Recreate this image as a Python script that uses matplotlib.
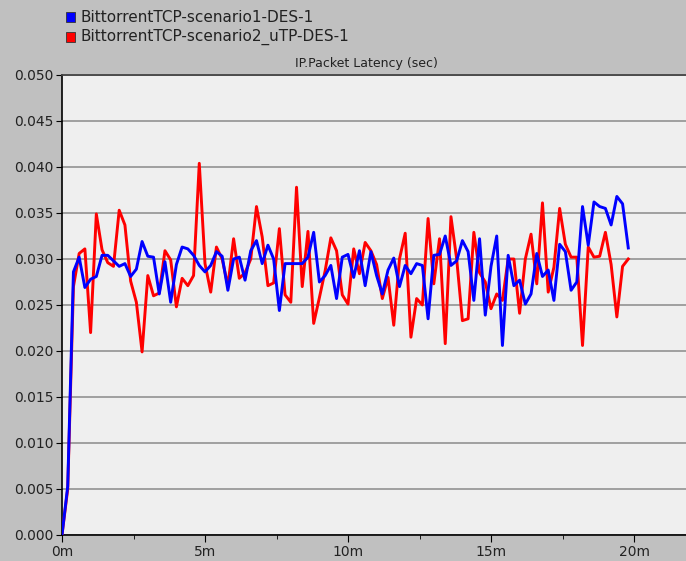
import numpy as np
import matplotlib
import matplotlib.pyplot as plt
from matplotlib.patches import Rectangle
from matplotlib.ticker import MultipleLocator, FuncFormatter

matplotlib.use('Agg')

# sample times in minutes (one sample every 12 s)
minutes = np.arange(100) * 0.2

scenario1_tcp = [
    0.0000, 0.0053, 0.0286, 0.0302, 0.0269, 0.0278, 0.0281, 0.0304, 0.0304, 0.0298,
    0.0292, 0.0295, 0.0281, 0.0289, 0.0319, 0.0303, 0.0302, 0.0262, 0.0297, 0.0253,
    0.0294, 0.0313, 0.0311, 0.0304, 0.0293, 0.0286, 0.0293, 0.0308, 0.0303, 0.0266,
    0.0300, 0.0302, 0.0277, 0.0309, 0.0320, 0.0295, 0.0315, 0.0300, 0.0244, 0.0295,
    0.0295, 0.0295, 0.0295, 0.0302, 0.0329, 0.0275, 0.0282, 0.0293, 0.0257, 0.0302,
    0.0305, 0.0280, 0.0309, 0.0271, 0.0308, 0.0282, 0.0262, 0.0288, 0.0301, 0.0270,
    0.0293, 0.0284, 0.0295, 0.0293, 0.0235, 0.0304, 0.0305, 0.0325, 0.0293, 0.0298,
    0.0320, 0.0308, 0.0255, 0.0322, 0.0239, 0.0292, 0.0325, 0.0206, 0.0304, 0.0271,
    0.0277, 0.0251, 0.0262, 0.0306, 0.0281, 0.0288, 0.0255, 0.0316, 0.0308, 0.0266,
    0.0275, 0.0357, 0.0315, 0.0362, 0.0357, 0.0355, 0.0337, 0.0368, 0.0360, 0.0312,
]

scenario2_utp = [
    0.0000, 0.0050, 0.0270, 0.0306, 0.0311, 0.0220, 0.0349, 0.0310, 0.0296, 0.0292,
    0.0353, 0.0337, 0.0276, 0.0253, 0.0199, 0.0282, 0.0260, 0.0263, 0.0309, 0.0299,
    0.0248, 0.0279, 0.0271, 0.0282, 0.0404, 0.0295, 0.0264, 0.0313, 0.0300, 0.0271,
    0.0322, 0.0279, 0.0285, 0.0300, 0.0357, 0.0324, 0.0271, 0.0274, 0.0333, 0.0261,
    0.0253, 0.0378, 0.0270, 0.0330, 0.0230, 0.0258, 0.0287, 0.0323, 0.0309, 0.0261,
    0.0251, 0.0311, 0.0284, 0.0318, 0.0309, 0.0294, 0.0257, 0.0280, 0.0228, 0.0300,
    0.0328, 0.0215, 0.0257, 0.0250, 0.0344, 0.0273, 0.0322, 0.0208, 0.0346, 0.0300,
    0.0233, 0.0235, 0.0329, 0.0285, 0.0275, 0.0246, 0.0262, 0.0255, 0.0300, 0.0300,
    0.0241, 0.0300, 0.0327, 0.0273, 0.0361, 0.0264, 0.0291, 0.0355, 0.0316, 0.0302,
    0.0302, 0.0206, 0.0313, 0.0302, 0.0303, 0.0329, 0.0294, 0.0237, 0.0292, 0.0300,
]

series_labels = ['BittorrentTCP-scenario1-DES-1', 'BittorrentTCP-scenario2_uTP-DES-1']
series_colors = ['#0000ff', '#ff0000']

fig = plt.figure(figsize=(6.86, 5.61), dpi=100, facecolor='#c0c0c0')
ax = fig.add_axes([62 / 686, 26 / 561, 624 / 686, 460 / 561])
ax.set_facecolor('#efefef')

ax.plot(minutes, scenario2_utp, color=series_colors[1], lw=2.1, zorder=3)
ax.plot(minutes, scenario1_tcp, color=series_colors[0], lw=2.1, zorder=4)

ax.set_xlim(0, 624 / 28.6)
ax.set_ylim(0, 0.050)
ax.yaxis.set_major_locator(MultipleLocator(0.005))
ax.yaxis.set_major_formatter(FuncFormatter(lambda v, p: f'{v:.3f}'))
ax.xaxis.set_major_locator(MultipleLocator(5))
ax.xaxis.set_minor_locator(MultipleLocator(2.5))
ax.xaxis.set_major_formatter(FuncFormatter(lambda v, p: f'{v:.0f}m'))

ax.grid(axis='y', color='#8a8a8a', lw=1.1)
ax.set_axisbelow(True)
ax.spines['right'].set_visible(False)
ax.spines['top'].set_color('#444444')
ax.spines['top'].set_linewidth(1.3)
ax.spines['left'].set_linewidth(1.2)
ax.spines['bottom'].set_linewidth(1.2)

ax.tick_params(axis='y', direction='out', length=4, labelsize=10, pad=2, labelcolor='#222222')
ax.tick_params(axis='x', which='major', direction='out', length=5, labelsize=10, pad=2, labelcolor='#222222')
ax.tick_params(axis='x', which='minor', direction='out', length=3)

fig.text(366 / 686, 1 - 64 / 561, 'IP.Packet Latency (sec)', ha='center', va='center',
         fontsize=9, color='#222222')

# legend drawn by hand, top-left
for k, (lab, col) in enumerate(zip(series_labels, series_colors)):
    y = 1 - (17 + 20 * k) / 561
    fig.patches.append(Rectangle((66 / 686, y - 5 / 561), 9 / 686, 10 / 561,
                                 transform=fig.transFigure, facecolor=col,
                                 edgecolor='#333333', lw=0.6))
    fig.text(80 / 686, y, lab, ha='left', va='center', fontsize=11, color='#222222')

fig.savefig('out.png', dpi=100, facecolor=fig.get_facecolor())
